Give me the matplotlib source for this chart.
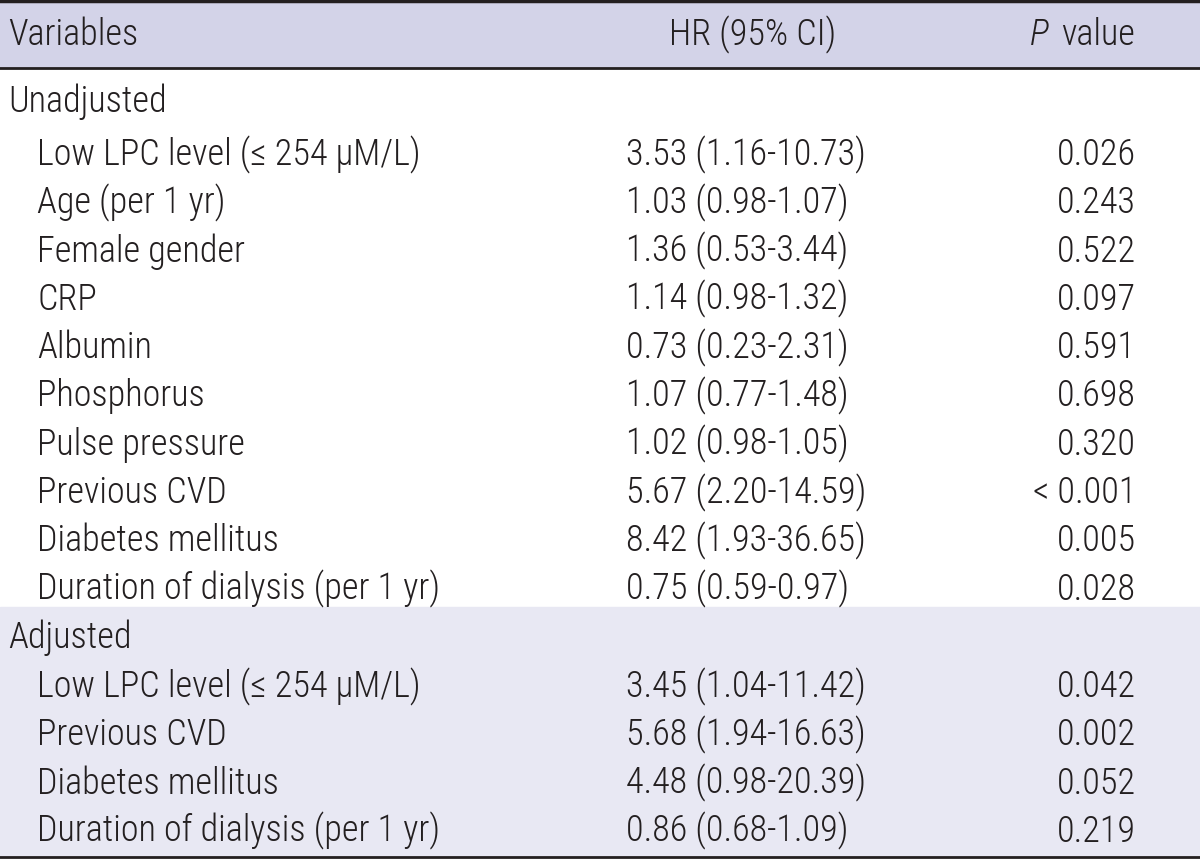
import matplotlib
matplotlib.use("Agg")
import matplotlib.pyplot as plt
from matplotlib import font_manager

# pick the narrowest sans available, fall back to Liberation Sans
names = {f.name for f in font_manager.fontManager.ttflist}
FAMILY = ["Liberation Sans"]
for cand in ["Liberation Sans Narrow", "Roboto Condensed", "Open Sans Condensed"]:
    if cand in names:
        FAMILY = [cand]
        break
plt.rcParams["font.family"] = FAMILY + ["Liberation Sans", "DejaVu Sans"]
plt.rcParams["font.weight"] = "light"

HEADERS = ["Variables", "HR (95% CI)", "value"]
GROUPS = ["Unadjusted", "Adjusted"]
UNADJ_VARS = ["Low LPC level (≤ 254 µM/L)", "Age (per 1 yr)", "Female gender", "CRP",
              "Albumin", "Phosphorus", "Pulse pressure", "Previous CVD",
              "Diabetes mellitus", "Duration of dialysis (per 1 yr)"]
UNADJ_HR = ["3.53 (1.16-10.73)", "1.03 (0.98-1.07)", "1.36 (0.53-3.44)", "1.14 (0.98-1.32)",
            "0.73 (0.23-2.31)", "1.07 (0.77-1.48)", "1.02 (0.98-1.05)", "5.67 (2.20-14.59)",
            "8.42 (1.93-36.65)", "0.75 (0.59-0.97)"]
UNADJ_P = ["0.026", "0.243", "0.522", "0.097", "0.591", "0.698", "0.320", "< 0.001",
           "0.005", "0.028"]
ADJ_VARS = ["Low LPC level (≤ 254 µM/L)", "Previous CVD", "Diabetes mellitus",
            "Duration of dialysis (per 1 yr)"]
ADJ_HR = ["3.45 (1.04-11.42)", "5.68 (1.94-16.63)", "4.48 (0.98-20.39)", "0.86 (0.68-1.09)"]
ADJ_P = ["0.042", "0.002", "0.052", "0.219"]

W, H = 1200, 862
INK = "#231f20"
fig = plt.figure(figsize=(W / 100, H / 100), dpi=100)
ax = fig.add_axes([0, 0, 1, 1])
ax.set_xlim(0, W)
ax.set_ylim(H, 0)
ax.axis("off")
renderer = fig.canvas.get_renderer()

# size the font so the longest label spans ~403 px like the reference
probe = ax.text(0, 0, UNADJ_VARS[-1], fontsize=20)
pw = probe.get_window_extent(renderer).width
probe.remove()
FS = min(27, 20 * 403 / pw)

ax.axhspan(0, 68, color="#d3d3e8", zorder=0)
ax.axhspan(608, 858, color="#e8e8f3", zorder=0)
ax.axhline(1.5, color=INK, lw=2.5)
ax.axhline(68.5, color=INK, lw=2.0)
ax.axhline(858.5, color=INK, lw=2.0)


def txt(x, y, s, ha="left", **kw):
    return ax.text(x, y, s, fontsize=FS, va="baseline", ha=ha, color=INK, **kw)


txt(8, 45, HEADERS[0])
txt(753, 45, HEADERS[1], ha="center")
tv = txt(1135, 45, HEADERS[2], ha="right")
vx0 = tv.get_window_extent(renderer).x0
txt(vx0 - 12, 45, "P", ha="right", style="italic")


def block(y_title, y_first, title, names, hrs, ps, step=48.3):
    txt(8, y_title, title)
    for i, (n, h, p) in enumerate(zip(names, hrs, ps)):
        y = y_first + step * i
        txt(37, y, n)
        txt(626, y, h)
        txt(1136, y, p, ha="right")


block(112, 165, GROUPS[0], UNADJ_VARS, UNADJ_HR, UNADJ_P)
block(648, 697, GROUPS[1], ADJ_VARS, ADJ_HR, ADJ_P)

fig.savefig("out.png", dpi=100)
